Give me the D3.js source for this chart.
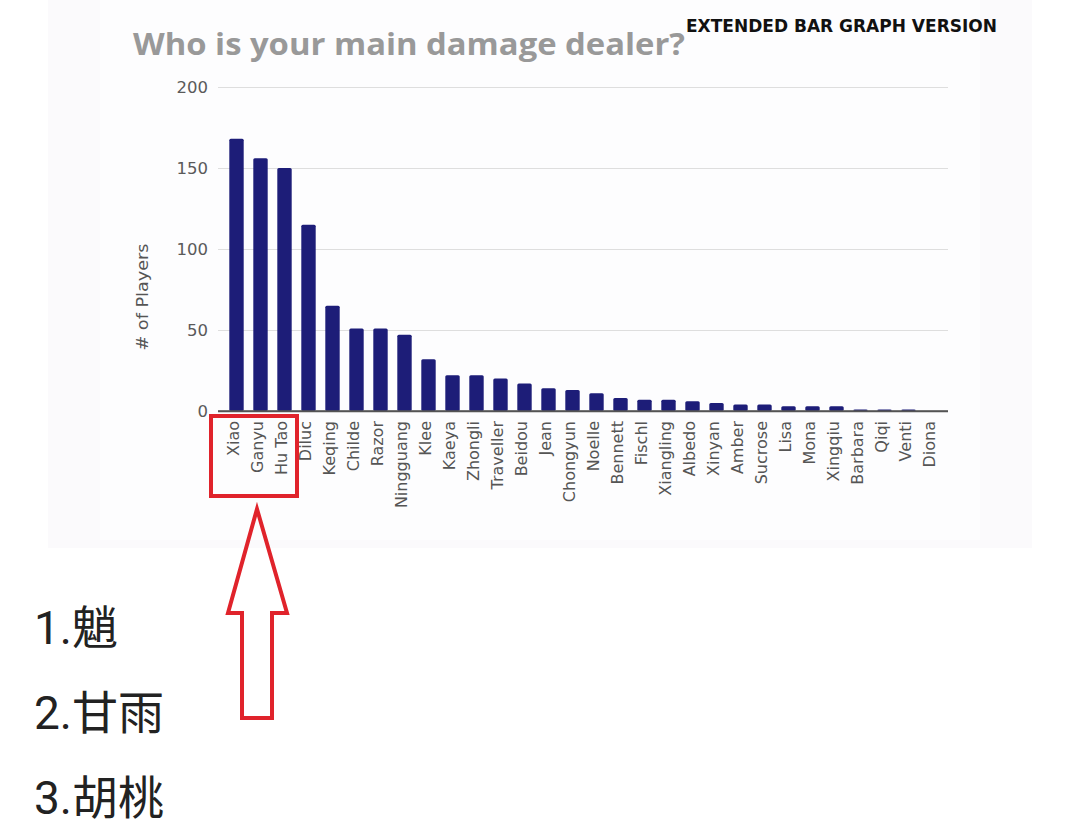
<!DOCTYPE html>
<html><head><meta charset="utf-8">
<script src="https://cdn.jsdelivr.net/npm/d3@7"></script>
<style>html,body{margin:0;padding:0;background:#fff;}svg{display:block;}</style>
</head><body>
<svg id="c" width="1080" height="829"></svg>
<script>
const categories = ["Xiao","Ganyu","Hu Tao","Diluc","Keqing","Childe","Razor","Ningguang","Klee","Kaeya","Zhongli","Traveller","Beidou","Jean","Chongyun","Noelle","Bennett","Fischl","Xiangling","Albedo","Xinyan","Amber","Sucrose","Lisa","Mona","Xingqiu","Barbara","Qiqi","Venti","Diona"];
const players = [168,156,150,115,65,51,51,47,32,22,22,20,17,14,13,11,8,7,7,6,5,4,4,3,3,3,1,1,1,0];
const yTicks = [0,50,100,150,200];
const rankLines = ["1.魈","2.甘雨","3.胡桃"];
const titleText = "Who is your main damage dealer?";
const tagText = "EXTENDED BAR GRAPH VERSION";
const yTitle = "# of Players";

const svg = d3.select("#c");
// card background
svg.append("rect").attr("x",48).attr("y",0).attr("width",984).attr("height",548).attr("fill","#fbfafc");
svg.append("rect").attr("x",100).attr("y",0).attr("width",880).attr("height",540).attr("fill","#fdfdfe");

const x = d3.scaleBand().domain(categories).range([224.5,944.5]).paddingInner(0.4).paddingOuter(0.2);
const y = d3.scaleLinear().domain([0,200]).range([411,87]);

const axisFont = "DejaVu Sans, Verdana, sans-serif";

// gridlines + y tick labels
const yAxis = d3.axisLeft(y).tickValues(yTicks).tickSize(0).tickPadding(10);
const gy = svg.append("g").attr("transform","translate(218,0)").call(yAxis);
gy.select(".domain").remove();
gy.selectAll("text").attr("font-family",axisFont).attr("font-size",16.5).attr("fill","#5a5a5a");
gy.selectAll(".tick").append("line").attr("x1",0).attr("x2",730).attr("stroke",d=>d===0?"#555":"#dedede").attr("stroke-width",d=>d===0?1.5:1);

// bars
svg.append("g").selectAll("rect").data(categories).join("rect")
  .attr("x",d=>x(d)).attr("width",x.bandwidth())
  .attr("y",(d,i)=>y(players[i])).attr("height",(d,i)=>y(0)-y(players[i]))
  .attr("rx",1.5).attr("fill","#1d1d78");
// redraw zero line on top
svg.append("line").attr("x1",218).attr("x2",948).attr("y1",y(0)).attr("y2",y(0)).attr("stroke","#555").attr("stroke-width",1.5);

// x labels (rotated)
const xAxis = d3.axisBottom(x).tickSize(0).tickPadding(0);
const gx = svg.append("g").attr("transform",`translate(-3,${y(0)})`).call(xAxis);
gx.select(".domain").remove();
gx.selectAll("text").attr("font-family",axisFont).attr("font-size",16).attr("fill","#555")
  .attr("text-anchor","end").attr("transform","rotate(-90)").attr("x",-10).attr("y",0).attr("dy","0.35em");

// y title
svg.append("text").attr("transform","translate(142,297) rotate(-90)").attr("text-anchor","middle").attr("dy","0.35em")
  .attr("font-family",axisFont).attr("font-size",16).attr("fill","#555").attr("textLength",107).attr("lengthAdjust","spacingAndGlyphs").text(yTitle);

// title
svg.append("text").attr("x",133).attr("y",55).attr("font-family","Open Sans, DejaVu Sans, sans-serif").attr("font-weight","bold")
  .attr("font-size",30).attr("fill","#999").attr("textLength",552).attr("lengthAdjust","spacingAndGlyphs").text(titleText);
svg.append("text").attr("x",686).attr("y",32).attr("font-family","Liberation Sans Narrow, DejaVu Sans Condensed, sans-serif")
  .attr("font-weight","600").attr("font-size",18).attr("fill","#111").attr("textLength",311).attr("lengthAdjust","spacingAndGlyphs").text(tagText);

// red highlight box
svg.append("rect").attr("x",211).attr("y",416).attr("width",86).attr("height",80)
  .attr("fill","none").attr("stroke","#e0232b").attr("stroke-width",4);

// arrow
const arrowPts = [[257,509],[287,613],[272,613],[272,718],[242,718],[242,613],[228,613]];
svg.append("polygon").attr("points",arrowPts.map(p=>p.join(",")).join(" "))
  .attr("fill","none").attr("stroke","#e0232b").attr("stroke-width",4).attr("stroke-linejoin","miter");

// Chinese ranking lines
svg.append("g").selectAll("text").data(rankLines).join("text")
  .attr("x",34).attr("y",(d,i)=>644+i*85)
  .attr("font-family","Roboto, Noto Sans CJK SC, sans-serif").attr("font-size",46).attr("fill","#222").text(d=>d);
</script>
</body></html>
